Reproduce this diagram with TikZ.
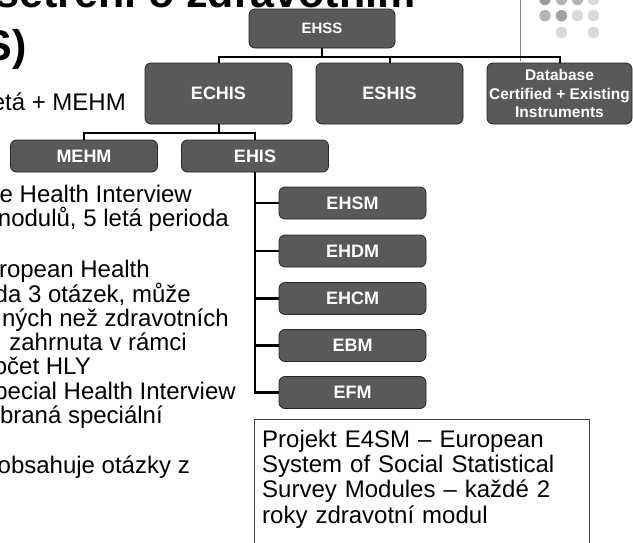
\documentclass[tikz,border=0pt]{standalone}
\usepackage{fontspec}
\setmainfont{Liberation Sans}
\definecolor{boxgray}{HTML}{595959}
\definecolor{boxline}{HTML}{262626}
\definecolor{frameline}{HTML}{404040}
\definecolor{dotdark}{HTML}{9A9A9A}
\definecolor{dotmid}{HTML}{B4B4B4}
\definecolor{dotlight}{HTML}{DADADA}

\begin{document}
\begin{tikzpicture}[x=1pt,y=-1pt,
        unitbox/.style={draw=boxline, line width=0.8pt, fill=boxgray, rounded corners=6pt, text=white, inner sep=1pt, align=center, font=\bfseries\fontsize{18}{20}\selectfont},
        tallbox/.style={unitbox, minimum width=147pt, minimum height=61pt},
        flatbox/.style={unitbox, minimum width=147pt, minimum height=32pt},
        link/.style={line width=2pt},
        stem/.style={line width=2.6pt},
        bodytext/.style={anchor=base east, inner sep=0pt, font=\fontsize{24}{27}\selectfont},
        headline/.style={anchor=base east, inner sep=0pt, font=\bfseries\fontsize{43}{50}\selectfont}]
        \useasboundingbox (0,0) rectangle (633,542);

        \node[headline] (head1) at (416,7) {šetření o zdravotním};
        \node[headline] (head2) at (27,60) {S)};

        \draw[gray, line width=0.8pt] (520,0) -- (520,61);
        \fill[dotdark] (545,-0.5) circle [radius=5.7];
        \fill[dotmid] (561.5,-0.5) circle [radius=5.7];
        \fill[dotmid] (577.5,-0.5) circle [radius=5.7];
        \fill[dotlight] (593.5,-0.5) circle [radius=5.7];
        \fill[dotmid] (545,15.7) circle [radius=5.7];
        \fill[dotmid!90!black] (561.5,15.7) circle [radius=5.7];
        \fill[dotlight] (577.5,15.7) circle [radius=5.7];
        \fill[dotlight] (593.5,15.7) circle [radius=5.7];
        \fill[dotlight] (561.5,32.3) circle [radius=5.7];
        \fill[dotlight] (593.5,32.3) circle [radius=5.7];

        \node[bodytext] (l1) at (126,110.5) {etá + MEHM};
        \node[bodytext] (l2) at (192,202) {e Health Interview};
        \node[bodytext] (l3) at (229,226) {nodulů, 5 letá perioda};
        \node[bodytext] (l4) at (150,277.5) {ropean Health};
        \node[bodytext] (l5) at (191,302) {da 3 otázek, může};
        \node[bodytext] (l6) at (229,326.5) {ných než zdravotních};
        \node[bodytext] (l7) at (187,350.5) {zahrnuta v rámci};
        \node[bodytext] (l8) at (91,374.5) {očet HLY};
        \node[bodytext] (l9) at (236,399) {pecial Health Interview};
        \node[bodytext] (l10) at (163,423.5) {braná speciální};
        \node[bodytext] (l11) at (190,473.5) {obsahuje otázky z};

        \node[flatbox, minimum width=146pt, minimum height=39pt, font=\bfseries\fontsize{15}{17}\selectfont] (ehss) at (322,28.5) {EHSS};
        \node[tallbox] (echis) at (218.5,93.5) {ECHIS};
        \node[tallbox] (eshis) at (389.5,93.5) {ESHIS};
        \node[tallbox, minimum width=145pt, font=\bfseries\fontsize{15.5}{18.5}\selectfont] (dbase) at (559.5,93.5) {Database\\Certified + Existing\\Instruments};
        \node[flatbox] (mehm) at (84,156) {MEHM};
        \node[flatbox] (ehis) at (255,156) {EHIS};
        \node[flatbox] (ehsm) at (352.5,203) {EHSM};
        \node[flatbox] (ehdm) at (352.5,251) {EHDM};
        \node[flatbox] (ehcm) at (352.5,298.5) {EHCM};
        \node[flatbox] (ebm) at (352.5,345.5) {EBM};
        \node[flatbox] (efm) at (352.5,392.5) {EFM};

        \coordinate (topbus) at (322,56.5);
        \coordinate (midbus) at (218.5,133);
        \draw[link] (ehss) -- (topbus);
        \draw[link] (echis.north) |- (topbus) -| (dbase.north);
        \draw[link] (eshis.north) -- (eshis.north |- topbus);
        \draw[link] (echis) -- (midbus);
        \draw[link] (mehm.north) |- (midbus) -| (ehis.north);
        \draw[stem] (ehis.south) |- (efm.west);
        \draw[stem] (ehis.south |- ehsm.west) -- (ehsm.west);
        \draw[stem] (ehis.south |- ehdm.west) -- (ehdm.west);
        \draw[stem] (ehis.south |- ehcm.west) -- (ehcm.west);
        \draw[stem] (ehis.south |- ebm.west) -- (ebm.west);

        \node[anchor=north west, text width=318pt, inner xsep=8pt, inner ysep=11pt, align=left, font=\fontsize{24}{25.2}\selectfont] (e4sm) at (254,419) {Projekt E4SM – European\\System of Social Statistical\\Survey Modules – každé 2\\roky zdravotní modul};
        \coordinate (boxfoot) at (589,560);
        \draw[frameline, line width=0.9pt] (e4sm.north west) rectangle (boxfoot);
    \end{tikzpicture}
\end{document}
